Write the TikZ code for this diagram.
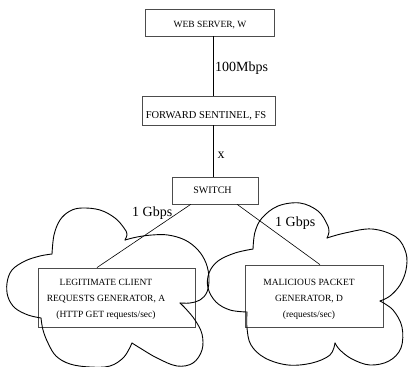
\documentclass[tikz,border=0pt]{standalone}
\usepackage{fontspec}
\setmainfont{Liberation Serif}
\usetikzlibrary{calc}
\begin{document}
\begin{tikzpicture}[x=1pt,y=-1pt,
  box/.style={draw=black!70, line width=0.8pt, inner sep=0pt},
  boxtext/.style={font=\fontsize{9.5}{16}\selectfont, align=center, inner sep=0pt},
  lbl/.style={font=\fontsize{14}{16}\selectfont, inner sep=0pt},
  conn/.style={draw=black, line width=0.6pt},
  cloudline/.style={draw=black, line width=0.9pt, line join=round, line cap=round}]
\useasboundingbox (0,0) rectangle (408,367);

% boxes
\node[box, minimum width=129pt, minimum height=27pt] (W) at (209.5,22.5) {};
\node[boxtext, anchor=base] (Wt) at (210,27.3) {WEB SERVER, W};
\node[box, minimum width=133pt, minimum height=29pt] (FS) at (208.5,110.5) {};
\node[boxtext, font=\fontsize{10.5}{12}\selectfont, anchor=base] (FSt) at (206,118) {FORWARD SENTINEL, FS};
\node[box, minimum width=86pt, minimum height=27pt] (SW) at (215,190.5) {};
\node[boxtext, font=\fontsize{10}{12}\selectfont, anchor=base] (SWt) at (212.5,193) {SWITCH};
\node[box, minimum width=157pt, minimum height=59pt] (A) at (116.5,297.5) {};
\node[boxtext] (At) at (106,299) {LEGITIMATE CLIENT\\REQUESTS GENERATOR, A\\(HTTP GET requests/sec)};
\node[box, minimum width=138pt, minimum height=62pt] (D) at (314,296) {};
\node[boxtext] (Dt) at (309,299) {MALICIOUS PACKET\\GENERATOR, D\\(requests/sec)};

% connectors
\coordinate (lx) at (213,0);
\draw[conn] (W.south -| lx) -- (FS.north -| lx);
\draw[conn] (FS.south -| lx) -- (SW.north -| lx);
\draw[conn] ($(SW.south west)!0.22!(SW.south east)$) -- ($(A.north west)!0.376!(A.north east)$);
\draw[conn] ($(SW.south west)!0.756!(SW.south east)$) -- ($(D.north west)!0.543!(D.north east)$);

% labels
\node[lbl, anchor=base west] (bw) at (215,71.7) {100Mbps};
\node[lbl] (xl) at (221,155) {x};
\node[lbl, anchor=base west] (g1) at (132,216) {1 Gbps};
\node[lbl, anchor=base west] (g2) at (275,226) {1 Gbps};

% left cloud
\draw[cloudline] plot[smooth, tension=0.6] coordinates {(52,254) (54,235) (60,220) (70,211) (82,208) (100,210) (115,218) (124,228) (127,234) (125,240)};
\draw[cloudline] plot[smooth, tension=0.6] coordinates {(125,240) (137,237) (152,235) (168,235) (185,240) (198,250) (206,263) (209,278) (207,292) (200,300) (190,303) (180,303)};
\draw[cloudline] plot[smooth, tension=0.6] coordinates {(180,303) (186,309) (195,320) (202,334) (202,350) (193,363) (177,366) (157,358) (140,348) (132,343)};
\draw[cloudline] plot[smooth, tension=0.6] coordinates {(132,343) (124,357) (110,366) (90,367) (70,364) (56,356) (48,343) (43,330) (41,318)};
\draw[cloudline] plot[smooth, tension=0.6] coordinates {(41,318) (28,315) (15,308) (8,297) (7,283) (12,270) (25,261) (40,256) (52,254)};

% right cloud
\draw[cloudline] plot[smooth, tension=0.6] coordinates {(253,249) (255,232) (262,218) (278,206) (300,203) (318,211) (327,224) (329,232) (327,238)};
\draw[cloudline] plot[smooth, tension=0.6] coordinates {(327,238) (345,233) (372,229) (396,237) (406,253) (406,270) (400,285) (390,296) (380,301)};
\draw[cloudline] plot[smooth, tension=0.6] coordinates {(380,301) (393,310) (402,327) (401,348) (389,361) (370,365) (352,359) (340,350) (335,343)};
\draw[cloudline] plot[smooth, tension=0.6] coordinates {(335,343) (330,355) (312,363) (288,365) (265,358) (251,345) (247,328) (247,312)};
\draw[cloudline] plot[smooth, tension=0.6] coordinates {(247,312) (230,310) (216,302) (208,288) (209,273) (218,261) (235,253) (253,249)};
\end{tikzpicture}
\end{document}
